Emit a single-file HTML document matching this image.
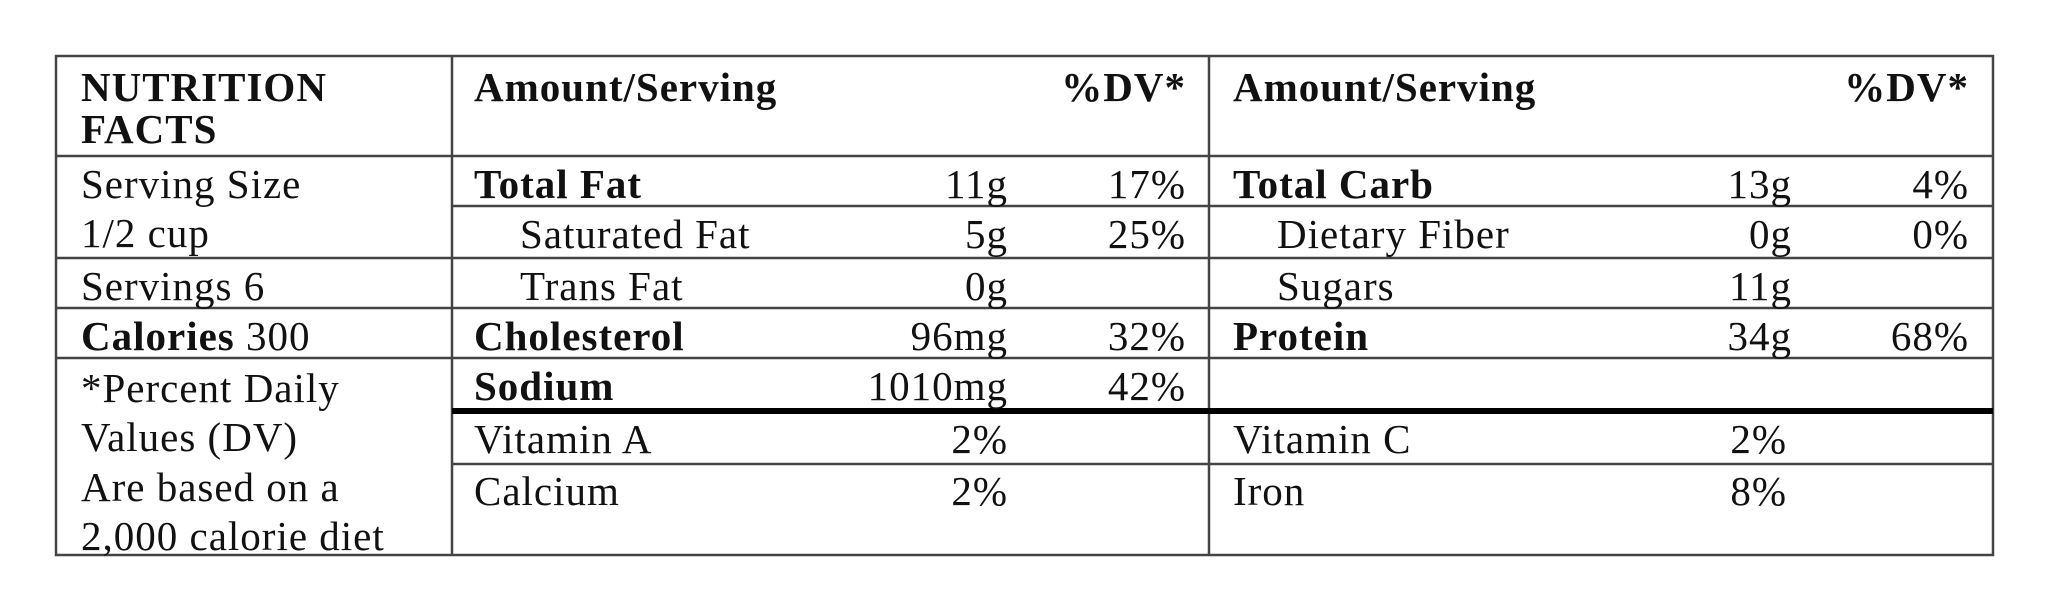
<!DOCTYPE html>
<html><head><meta charset="utf-8"><style>
html,body{margin:0;padding:0;background:#fff;}
svg{display:block;}
text{font-family:"Liberation Serif",serif;font-size:41px;letter-spacing:1px;fill:#111;}
.b{font-weight:bold;}
</style></head><body>
<svg width="2048" height="602" viewBox="0 0 2048 602">
<g stroke="#444" stroke-width="2.5" fill="none">
<rect x="56" y="56" width="1937" height="499"/>
<line x1="452" y1="56" x2="452" y2="555"/>
<line x1="1209" y1="56" x2="1209" y2="555"/>
<line x1="56" y1="156" x2="1993" y2="156"/>
<line x1="452" y1="206" x2="1993" y2="206"/>
<line x1="56" y1="258" x2="1993" y2="258"/>
<line x1="56" y1="308" x2="1993" y2="308"/>
<line x1="56" y1="358" x2="1993" y2="358"/>
<line x1="452" y1="464" x2="1993" y2="464"/>
</g>
<line x1="452" y1="411" x2="1993" y2="411" stroke="#000" stroke-width="6"/>
<g transform="translate(0,2)">
<text x="81" y="99" class="b">NUTRITION</text>
<text x="81" y="141" class="b">FACTS</text>
<text x="81" y="196">Serving Size</text>
<text x="81" y="245">1/2 cup</text>
<text x="81" y="298">Servings 6</text>
<text x="81" y="348"><tspan class="b">Calories</tspan> 300</text>
<text x="81" y="400">*Percent Daily</text>
<text x="81" y="449">Values (DV)</text>
<text x="81" y="499">Are based on a</text>
<text x="81" y="548">2,000 calorie diet</text>
<text x="474" y="99" class="b">Amount/Serving</text>
<text x="1186" y="99" class="b" text-anchor="end">%DV*</text>
<text x="474" y="196" class="b">Total Fat</text>
<text x="1008" y="196" text-anchor="end">11g</text>
<text x="1186" y="196" text-anchor="end">17%</text>
<text x="520" y="246">Saturated Fat</text>
<text x="1008" y="246" text-anchor="end">5g</text>
<text x="1186" y="246" text-anchor="end">25%</text>
<text x="520" y="298">Trans Fat</text>
<text x="1008" y="298" text-anchor="end">0g</text>
<text x="474" y="348" class="b">Cholesterol</text>
<text x="1008" y="348" text-anchor="end">96mg</text>
<text x="1186" y="348" text-anchor="end">32%</text>
<text x="474" y="398" class="b">Sodium</text>
<text x="1008" y="398" text-anchor="end">1010mg</text>
<text x="1186" y="398" text-anchor="end">42%</text>
<text x="474" y="451">Vitamin A</text>
<text x="1008" y="451" text-anchor="end">2%</text>
<text x="474" y="503">Calcium</text>
<text x="1008" y="503" text-anchor="end">2%</text>
<text x="1233" y="99" class="b">Amount/Serving</text>
<text x="1969" y="99" class="b" text-anchor="end">%DV*</text>
<text x="1233" y="196" class="b">Total Carb</text>
<text x="1792" y="196" text-anchor="end">13g</text>
<text x="1969" y="196" text-anchor="end">4%</text>
<text x="1277" y="246">Dietary Fiber</text>
<text x="1792" y="246" text-anchor="end">0g</text>
<text x="1969" y="246" text-anchor="end">0%</text>
<text x="1277" y="298">Sugars</text>
<text x="1792" y="298" text-anchor="end">11g</text>
<text x="1233" y="348" class="b">Protein</text>
<text x="1792" y="348" text-anchor="end">34g</text>
<text x="1969" y="348" text-anchor="end">68%</text>
<text x="1233" y="451">Vitamin C</text>
<text x="1787" y="451" text-anchor="end">2%</text>
<text x="1233" y="503">Iron</text>
<text x="1787" y="503" text-anchor="end">8%</text>
</g>
</svg>
</body></html>
